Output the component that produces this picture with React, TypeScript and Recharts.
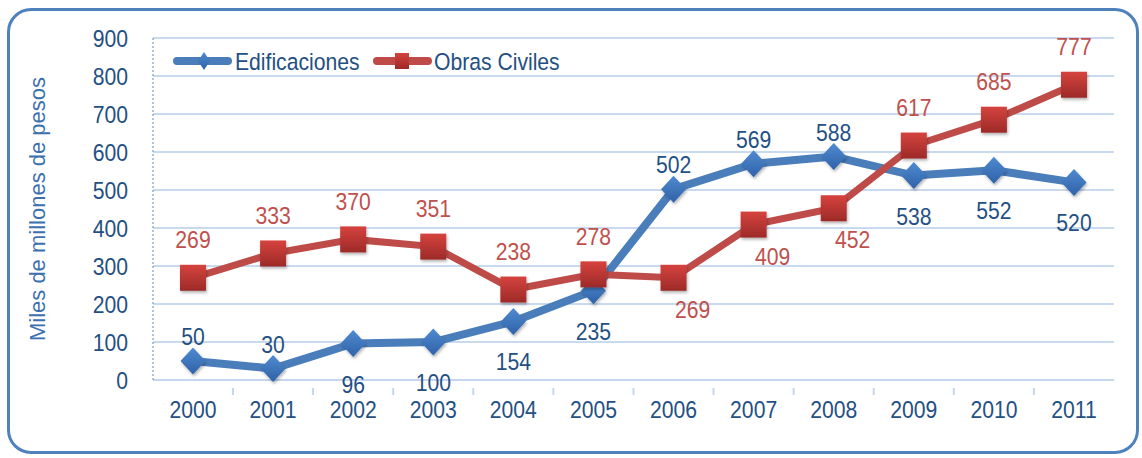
import React from 'react'
import { LineChart, Line, XAxis, YAxis, CartesianGrid, LabelList } from 'recharts'

const years = ['2000', '2001', '2002', '2003', '2004', '2005', '2006', '2007', '2008', '2009', '2010', '2011']
const edificaciones = [50, 30, 96, 100, 154, 235, 502, 569, 588, 538, 552, 520]
const obrasCiviles = [269, 333, 370, 351, 238, 278, 269, 409, 452, 617, 685, 777]
const yTicks = [0, 100, 200, 300, 400, 500, 600, 700, 800, 900]

// where each value label sits relative to its point
const edifLabelSide = ['top', 'top', 'bottom', 'bottom', 'bottom', 'bottom', 'top', 'top', 'top', 'bottom', 'bottom', 'bottom']
const obrasLabelSide = ['top', 'top', 'top', 'top', 'top', 'top', 'below-right', 'below-right', 'below-right', 'top', 'top', 'top']

const data = years.map((year, i) => ({
  year,
  edificaciones: edificaciones[i],
  obras: obrasCiviles[i],
}))

const FONT = '"Liberation Sans", Arial, sans-serif'
const FS = 23.5
const BLUE = '#4a7ebb'
const RED = '#be4b48'
const TEXT_BLUE = '#244f83'
const TEXT_RED = '#c0504d'
const GRID = '#c9d9ee'

// text squeezed a little horizontally, like the tall narrow lettering of the original
function NarrowText({ x, y, anchor = 'middle', fill = TEXT_BLUE, children }: any) {
  return (
    <text
      transform={`translate(${x},${y}) scale(0.9,1)`}
      textAnchor={anchor}
      fill={fill}
      fontSize={FS}
      fontFamily={FONT}
    >
      {children}
    </text>
  )
}

function Diamond(props: any) {
  const { cx, cy } = props
  if (cx == null || cy == null) return null
  const rx = 12.5
  const ry = 13.5
  return (
    <g filter="url(#shadow)">
      <polygon
        points={`${cx},${cy - ry} ${cx + rx},${cy} ${cx},${cy + ry} ${cx - rx},${cy}`}
        fill="url(#blueGrad)"
      />
    </g>
  )
}

function Square(props: any) {
  const { cx, cy } = props
  if (cx == null || cy == null) return null
  return (
    <g filter="url(#shadow)">
      <rect x={cx - 13} y={cy - 13} width={26} height={26} fill="url(#redGrad)" />
    </g>
  )
}

function edifLabel(props: any) {
  const { x, y, value, index } = props
  const ty = edifLabelSide[index] === 'top' ? y - 16 : y + 49
  return <NarrowText x={x} y={ty}>{value}</NarrowText>
}

function obrasLabel(props: any) {
  const { x, y, value, index } = props
  const top = obrasLabelSide[index] === 'top'
  return (
    <NarrowText x={top ? x : x + 19} y={top ? y - 29.5 : y + 40} fill={TEXT_RED}>
      {value}
    </NarrowText>
  )
}

function YTick(props: any) {
  const { y, payload } = props
  return <NarrowText x={128} y={y + 8.5} anchor="end">{payload.value}</NarrowText>
}

function XTick(props: any) {
  const { x, y, payload, index } = props
  return (
    <g>
      {index < years.length - 1 && (
        <line x1={x + 40} y1={y} x2={x + 40} y2={y + 7} stroke="#c6d6ec" strokeWidth={2} />
      )}
      <NarrowText x={x} y={418}>{payload.value}</NarrowText>
    </g>
  )
}

export default function App() {
  return (
    <div style={{ position: 'relative', width: 1142, height: 458, background: '#fff', overflow: 'hidden' }}>
      <style>{`body{margin:0}`}</style>
      <div
        style={{
          position: 'absolute', left: 7, top: 8, width: 1126, height: 440,
          border: '3px solid #4f81bd', borderRadius: 24,
        }}
      />
      <svg width={0} height={0} style={{ position: 'absolute' }}>
        <defs>
          <linearGradient id="blueGrad" x1="0" y1="0" x2="0" y2="1">
            <stop offset="0%" stopColor="#4f8ad0" />
            <stop offset="100%" stopColor="#2f62a8" />
          </linearGradient>
          <linearGradient id="redGrad" x1="0" y1="0" x2="0" y2="1">
            <stop offset="0%" stopColor="#d6433e" />
            <stop offset="100%" stopColor="#9c2a28" />
          </linearGradient>
          <filter id="shadow" x="-40%" y="-40%" width="180%" height="180%">
            <feDropShadow dx="1" dy="2" stdDeviation="1.5" floodColor="#000" floodOpacity="0.3" />
          </filter>
        </defs>
      </svg>
      <div
        style={{
          position: 'absolute', left: 38, top: 209, transform: 'translate(-50%, -50%) rotate(-90deg)',
          whiteSpace: 'nowrap', color: '#3b6fae', fontSize: 22, fontFamily: FONT,
        }}
      >
        Miles de millones de pesos
      </div>
      <div style={{ position: 'absolute', left: 0, top: 0 }}>
        <LineChart width={1142} height={458} data={data} margin={{ top: 38, right: 28, left: 113, bottom: 38 }}>
          <CartesianGrid stroke={GRID} strokeWidth={2} vertical={false} />
          <XAxis
            dataKey="year"
            height={40}
            padding={{ left: 40, right: 40 }}
            tickLine={false}
            axisLine={{ stroke: '#c6d6ec', strokeWidth: 2 }}
            tick={<XTick />}
            interval={0}
          />
          <YAxis
            width={40}
            domain={[0, 900]}
            ticks={yTicks}
            tickLine={false}
            axisLine={{ stroke: '#5b8ac6', strokeDasharray: '2 2' }}
            tick={<YTick />}
          />
          <Line
            dataKey="edificaciones"
            stroke={BLUE}
            strokeWidth={8}
            dot={<Diamond />}
            activeDot={false}
            isAnimationActive={false}
          >
            <LabelList dataKey="edificaciones" content={edifLabel} />
          </Line>
          <Line
            dataKey="obras"
            stroke={RED}
            strokeWidth={7}
            dot={<Square />}
            activeDot={false}
            isAnimationActive={false}
          >
            <LabelList dataKey="obras" content={obrasLabel} />
          </Line>
        </LineChart>
      </div>
      <svg width={420} height={30} style={{ position: 'absolute', left: 160, top: 46 }}>
        <line x1={17} y1={15} x2={68} y2={15} stroke={BLUE} strokeWidth={8} strokeLinecap="round" />
        <polygon points="44,6 50,15 44,24 38,15" fill="url(#blueGrad)" />
        <NarrowText x={75} y={23.5} anchor="start">Edificaciones</NarrowText>
        <line x1={217} y1={15} x2={268} y2={15} stroke={RED} strokeWidth={8} strokeLinecap="round" />
        <rect x={235} y={7} width={14} height={16} fill="url(#redGrad)" />
        <NarrowText x={274} y={23.5} anchor="start">Obras Civiles</NarrowText>
      </svg>
    </div>
  )
}
